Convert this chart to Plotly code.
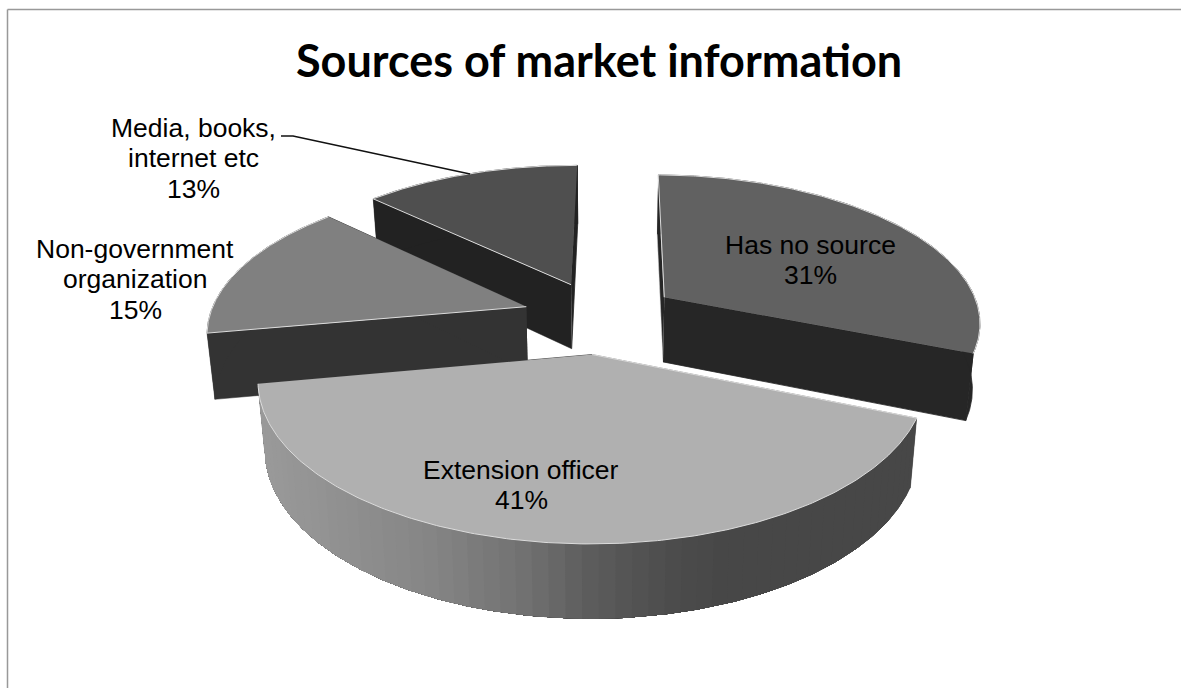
import numpy as np
import plotly.graph_objects as go

# Survey shares, clockwise from the first slice angle
categories = [["Has no source"], ["Extension officer"], ["Non-government", "organization"], ["Media, books,", "internet etc"]]
shares = [31, 41, 15, 13]
percent_labels = ["31%", "41%", "15%", "13%"]
title_text = "Sources of market information"

W, H = 1181, 688

# Projection of the tilted, exploded pie onto the page
CX, CY = 600.5, 317.0
RADIUS_X, RADIUS_Y = 317.0, 147.0
PERSPECTIVE = 0.155
EXPLODE = 0.247
DEPTH, DEPTH_PERSPECTIVE, LOWER_SHRINK = 65.5, 0.10, 0.98
FIRST_SLICE_DEG = 0.5

TOP_COLORS = ["#616161", "#b0b0b0", "#808080", "#4f4f4f"]
WALL_COLORS = ["#262626", "#3a3a3a", "#333333", "#222222"]
RIM_STOPS_X = [258, 330, 430, 520, 600, 680, 730, 920]
RIM_STOPS_GRAY = [154, 146, 134, 116, 92, 76, 71, 71]
EDGE = "#dcdcdc"
LABEL_SIZE = 26.5
LINE_STEP = 30.5


def project(theta, r, mid):
    """Page position of the top and bottom face for a slice point."""
    x = EXPLODE * np.sin(mid) + r * np.sin(theta)
    y = EXPLODE * np.cos(mid) + r * np.cos(theta)
    w = 1 + PERSPECTIVE * y
    sx = CX + RADIUS_X * x / w
    sy = CY - RADIUS_Y * y / w
    low_x = CX + (sx - CX) * LOWER_SHRINK
    low_y = sy + DEPTH / (1 + DEPTH_PERSPECTIVE * y)
    return sx, sy, low_x, low_y


def polygon(fig, xs, ys, fill, line=None, width=0.8):
    fig.add_trace(go.Scatter(
        x=list(xs), y=list(ys), mode="lines", fill="toself", fillcolor=fill,
        line=dict(color=line or fill, width=width), hoverinfo="skip", showlegend=False,
    ))


fig = go.Figure()

# Slice angle ranges come straight from the shares
edges = np.deg2rad(np.cumsum([0] + shares) / sum(shares) * 360 + FIRST_SLICE_DEG)
slices = [(i, edges[i], edges[i + 1]) for i in range(len(shares))]

# Paint from the back of the pie towards the viewer
for i, a0, a1 in [slices[3], slices[0], slices[2], slices[1]]:
    mid = (a0 + a1) / 2
    thetas = np.linspace(a0, a1, 240)
    tx, ty, lx, ly = project(thetas, 1.0, mid)
    ax, ay, alx, aly = project(mid, 0.0, mid)

    # Cut faces running from the centre to both ends of the arc
    polygon(fig, [ax, tx[0], lx[0], alx], [ay, ty[0], ly[0], aly], WALL_COLORS[i], EDGE if i == 0 else None, 0.5)
    polygon(fig, [ax, tx[-1], lx[-1], alx], [ay, ty[-1], ly[-1], aly], WALL_COLORS[i])

    # Outer wall: overlapping bands, each painted through to the end of the arc
    if i == 1:
        for k in range(0, len(thetas) - 1, 4):
            xm = tx[k]
            g = int(round(np.interp(xm, RIM_STOPS_X, RIM_STOPS_GRAY)))
            col = f"rgb({g},{g},{g})"
            # The arc runs right to left across the front of this slice
            polygon(fig, np.r_[tx[k:], lx[k:][::-1]], np.r_[ty[k:], ly[k:][::-1]], col, width=0)
    else:
        polygon(fig, np.r_[tx, lx[::-1]], np.r_[ty, ly[::-1]], WALL_COLORS[i])

    # Top face
    polygon(fig, np.r_[ax, tx], np.r_[ay, ty], TOP_COLORS[i], EDGE, 1.0)

# Leader line from the media label to its slice
fig.add_trace(go.Scatter(
    x=[281, 293, 470], y=[136, 136, 174], mode="lines",
    line=dict(color="#111111", width=1.5), hoverinfo="skip", showlegend=False,
))

# Label block centres, one annotation per text line to set the leading
label_anchor = [(810, 260), (521, 485), (135, 279), (193, 158)]
annotations = []
for name, pct, (px, py) in zip(categories, percent_labels, label_anchor):
    lines = name + [pct]
    for n, text in enumerate(lines):
        annotations.append(dict(
            x=px, y=py + (n - (len(lines) - 1) / 2) * LINE_STEP, xref="x", yref="y",
            showarrow=False, text=text,
            font=dict(family="Liberation Sans", size=LABEL_SIZE, color="#000000"),
        ))
annotations.append(dict(
    x=599, y=60, xref="x", yref="y", showarrow=False, text=f"<b>{title_text}</b>",
    font=dict(family="Lato", size=45, color="#000000"),
))

fig.update_layout(
    width=W, height=H, margin=dict(l=0, r=0, t=0, b=0),
    paper_bgcolor="white", plot_bgcolor="white",
    xaxis=dict(range=[0, W], visible=False, fixedrange=True),
    yaxis=dict(range=[H, 0], visible=False, fixedrange=True),
    annotations=annotations,
    shapes=[dict(type="line", x0=7.5, x1=7.5, y0=9.5, y1=H, line=dict(color="#999999", width=1.5)),
            dict(type="line", x0=7.5, x1=W, y0=9.5, y1=9.5, line=dict(color="#999999", width=1.5))],
)

fig.write_html("out.html", config=dict(displayModeBar=False))
